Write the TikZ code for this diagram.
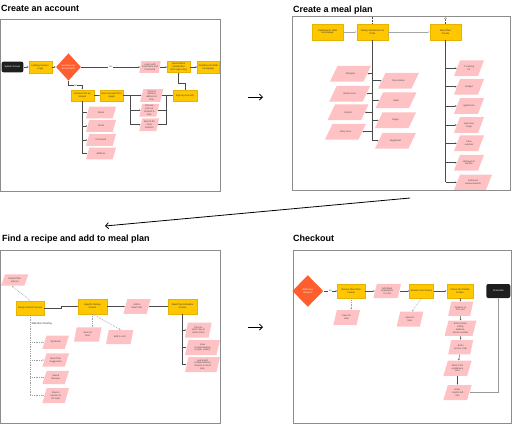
\documentclass[tikz,border=0pt]{standalone}
\usepackage{fontspec}
\setmainfont{Liberation Sans}
\usetikzlibrary{shapes.geometric,arrows.meta,calc}
\definecolor{yel}{HTML}{FFC700}
\definecolor{yeld}{HTML}{E5B300}
\definecolor{pk}{HTML}{FFC2C4}
\definecolor{org}{HTML}{FF5F2E}
\definecolor{blk}{HTML}{1E1E1E}
\definecolor{frm}{HTML}{8C8C8C}
\definecolor{lc}{HTML}{4A4A4A}
\newcommand\nf{\fontsize{2.4}{2.75}\selectfont}
\begin{document}
\begin{tikzpicture}[x=1pt,y=-1pt,
  every node/.style={font=\nf},
  yb/.style 2 args={rectangle, fill=yel, draw=yeld, line width=0.25pt, minimum width=#1, minimum height=#2, inner sep=0.3pt, align=center, text=black!80},
  bk/.style 2 args={rectangle, rounded corners=2pt, fill=blk, minimum width=#1, minimum height=#2, inner sep=0.3pt, align=center, text=white},
  pp/.style n args={3}{rectangle, minimum width=#1, minimum height=#2, inner sep=0.3pt, align=center, text=black!70,
     path picture={\fill[pk] (path picture bounding box.south west) -- ([xshift=-#3]path picture bounding box.south east) -- (path picture bounding box.north east) -- ([xshift=#3]path picture bounding box.north west) -- cycle;}},
  dm/.style 2 args={diamond, fill=org, minimum width=#1, minimum height=#2, inner sep=0pt, align=center, text=white},
  ar/.style={draw=lc, line width=0.45pt, -{Latex[length=1.6pt,width=1.6pt]}},
  ln/.style={draw=lc, line width=0.45pt},
  dsh/.style={draw=gray!75, dash pattern=on 1pt off 0.8pt},
  frame/.style={draw=frm, line width=1pt},
  ttl/.style={font=\fontsize{9}{10}\selectfont\bfseries, anchor=base west, inner sep=0pt},
  lbl/.style={fill=white, inner sep=0.4pt, font=\fontsize{2.3}{2.6}\selectfont, text=black!70},
  bigar/.style={draw=black, line width=0.8pt, -{Straight Barb[length=3pt,width=6pt]}},
]
\useasboundingbox (0,0) rectangle (512,424);

%%%%%%%%%%%%%%%% Panel 1 %%%%%%%%%%%%%%%%
\node[ttl] (t1) at (1,11.5) {Create an account};
\draw[frame] (0.7,19.5) rectangle (220,191);

\node[bk={21.7pt}{10.7pt}] (splash) at (12.5,67) {Splash Screen};
\node[yb={22.7pt}{11.7pt}] (landing) at (40.3,67) {Landing Screen /\\Login};
\node[dm={25pt}{27.4pt}] (hasacc) at (68.5,67) {Has the user\\an account?};
\node[pp={21.4pt}{11.7pt}{2pt}] (login) at (150,67) {Login with\\Username and\\Password};
\node[yb={22.7pt}{11pt}] (newfeat) at (178.7,67) {New feature\\introduction\\(first login only)};
\node[yb={22pt}{11.7pt}] (dash1) at (208.3,67) {Dashboard / HDB\\homepage};
\node[yb={23.3pt}{11.7pt}] (acct) at (82.3,95.5) {Account Set up\\Screen};
\node[yb={23.3pt}{11.7pt}] (give) at (111.7,95.5) {Give Account ID to\\plugin};
\node[pp={30pt}{11.7pt}{3.3pt}] (name) at (101,112.5) {Name};
\node[pp={30pt}{11.7pt}{3.3pt}] (email) at (101,126) {Email};
\node[pp={30pt}{11.7pt}{3.3pt}] (pass) at (101,140) {Password};
\node[pp={30pt}{11.7pt}{3.3pt}] (addr) at (101,153.5) {Address};
\node[pp={23.3pt}{12.7pt}{3.3pt}] (ch1) at (151.7,95.5) {Choose\\delivery\\address \&\\time};
\node[pp={20pt}{12.7pt}{3pt}] (ch2) at (149.3,110.2) {Choose\\pick up\\location \&\\time};
\node[pp={20pt}{12.7pt}{3pt}] (ch3) at (149.3,124.7) {Search for\\store\\location};
\node[yb={23.3pt}{11.7pt}] (signup) at (185,95.5) {Sign up Account!};

\draw[ar] (splash) -- (landing);
\draw[ar] (landing) -- (hasacc);
\draw[ar] (hasacc) -- node[lbl]{Yes} ([xshift=1pt]login.west);
\draw[ar] ([xshift=-1pt]login.east) -- (newfeat);
\draw[ar] (newfeat) -- (dash1);
\draw[ar] (hasacc.south) -- ++(0,4.7) -| node[lbl,pos=0.25]{No} (acct.north);
\draw[ar] (acct) -- (give);
\draw[ln] (acct.south) -- (acct.south |- addr);
\foreach \n in {name,email,pass,addr}
  \draw[ar] (acct.south |- \n) -- ([xshift=1.6pt]\n.west);
\coordinate (gb) at (130,95.5);
\draw[ln] (give) -- (gb) -- (gb |- ch3);
\foreach \n in {ch1,ch2,ch3}
  \draw[ar] (gb |- \n) -- ([xshift=1.6pt]\n.west);
\coordinate (mg) at (166,95.5);
\draw[ln] ([xshift=-1.5pt]ch2.east) -- (mg |- ch2);
\draw[ln] ([xshift=-1.5pt]ch3.east) -- (mg |- ch3) -- (mg);
\draw[ar] ([xshift=-1.6pt]ch1.east) -- (signup.west);
\draw[ar] (signup.north) -- ++(0,-6.5) -| (newfeat.south);

%%%%%%%%%%%%%%%% Panel 2 %%%%%%%%%%%%%%%%
\node[ttl] (t2) at (293,12.5) {Create a meal plan};
\draw[frame] (292.7,16) rectangle (510.3,190.3);

\node[yb={31pt}{15.7pt}] (dash2) at (327.5,32) {Dashboard / HDB\\Homepage};
\node[yb={31.6pt}{15.7pt}] (diet) at (372.5,32) {Dietary Restrictions \&\\Prefs};
\node[yb={31pt}{15.7pt}] (mcreate) at (445.5,32) {Meal Plan\\Create};
\draw[ar, draw=gray!70, line width=0.8pt] (dash2) -- (diet);
\draw[ar, draw=gray!70, line width=0.8pt] (diet) -- (mcreate);
\coordinate (dtop) at (372.5,16.5);
\coordinate (mtop) at (445.5,18.5);
\draw[draw=lc, line width=0.4pt, dash pattern=on 0.8pt off 0.8pt] (dtop) -- (diet.north);
\draw[draw=lc, line width=0.4pt, dash pattern=on 0.8pt off 0.8pt] (mtop) -- (mcreate.north);
\draw[draw=lc, line width=0.3pt, fill=white] (mtop) circle (1pt);

\node[pp={41pt}{15.7pt}{7.5pt}] (allerg) at (350.5,73.7) {Allergies};
\node[pp={41pt}{15.7pt}{7.5pt}] (gluten) at (349.7,93.7) {Gluten Free};
\node[pp={41pt}{15.7pt}{7.5pt}] (kosher) at (348,112.3) {Kosher};
\node[pp={41pt}{15.7pt}{7.5pt}] (dairy) at (345.5,131.7) {Dairy Free};
\node[pp={41pt}{15.7pt}{7.5pt}] (pesc) at (398.5,80.7) {Pescetarian};
\node[pp={41pt}{15.7pt}{7.5pt}] (halal) at (396,100.3) {Halal};
\node[pp={41pt}{15.7pt}{7.5pt}] (vegan) at (395.5,120.3) {Vegan};
\node[pp={41pt}{15.7pt}{7.5pt}] (veget) at (395.5,140.7) {Vegetarian};
\draw[ln] (diet.south) -- (diet.south |- veget);
\foreach \n in {allerg,gluten,kosher,dairy}
  \draw[ar] (diet.south |- \n) -- ([xshift=-3.8pt]\n.east);
\foreach \n in {pesc,halal,vegan,veget}
  \draw[ar] (diet.south |- \n) -- ([xshift=3.8pt]\n.west);

\node[pp={30pt}{15.7pt}{6pt}] (cook) at (469,68.3) {\# cooking\\for};
\node[pp={30pt}{15.7pt}{6pt}] (budget) at (469,86.7) {budget};
\node[pp={30pt}{15.7pt}{6pt}] (appl) at (469,106) {appliances};
\node[pp={30pt}{15.7pt}{6pt}] (prep) at (469,125) {prep time\\range};
\node[pp={30pt}{15.7pt}{6pt}] (fave) at (469,143.3) {Fave\\cuisines};
\node[pp={30pt}{15.7pt}{6pt}] (skill) at (469,162.7) {skill level in\\kitchen};
\node[pp={38pt}{15.3pt}{6pt}] (pref) at (473,182.3) {preferred\\measurements};
\draw[ln] (mcreate.south) -- (mcreate.south |- pref);
\foreach \n in {cook,budget,appl,prep,fave,skill,pref}
  \draw[ar] (mcreate.south |- \n) -- ([xshift=3pt]\n.west);

%%%%%%%%%%%%%%%% Panel 3 %%%%%%%%%%%%%%%%
\node[ttl] (t3) at (2,241) {Find a recipe and add to meal plan};
\draw[frame] (0.7,250.7) rectangle (220,423.5);

\node[pp={27.3pt}{11.4pt}{4pt}] (filter) at (14.7,280) {Select Filter\\options};
\node[yb={28.3pt}{14.3pt}] (search) at (30.2,307.8) {Recipe Search Screen};
\node[yb={28.3pt}{14.7pt}] (specific) at (92.5,306.5) {Specific Recipe\\Screen};
\node[pp={27.3pt}{14.7pt}{4pt}] (addmp) at (137,306.5) {Add to\\Meal Plan};
\node[yb={28.3pt}{14.7pt}] (sched) at (182.5,306.5) {Meal Plan Schedule\\Screen};
\node[pp={27.7pt}{14.3pt}{2.7pt}] (save1) at (87.8,334.5) {Save for\\later};
\node[pp={27.3pt}{14pt}{2.7pt}] (cart) at (119.7,337) {Add to cart};
\node[anchor=west, inner sep=0pt, font=\fontsize{2.7}{3}\selectfont, text=black!80] (sbo) at (31.3,324) {Side Bar Overlay};
\node[pp={26.7pt}{13.3pt}{4.3pt}] (mymeals) at (55.7,342.3) {My Meals};
\node[pp={26.7pt}{13.3pt}{4.3pt}] (sugg) at (55.7,360) {Meal Plan\\Suggestion};
\node[pp={26.7pt}{13.3pt}{4.3pt}] (saved) at (55.7,377.5) {Saved\\Recipes};
\node[pp={26.7pt}{15pt}{4.3pt}] (season) at (55.7,395.5) {View in\\Season \&\\On Sale};
\node[pp={26.7pt}{15pt}{3pt}] (c1) at (198.3,330) {Choose\\which day \&\\which meal};
\node[pp={35pt}{15pt}{3.5pt}] (c2) at (202.5,347.5) {View\\complementary\\recipes (sides)};
\node[pp={35pt}{15pt}{3.5pt}] (c3) at (202.5,364.5) {quick add\\complementary\\recipes to meal\\plan};

\draw[ar, dsh] (search.north) -- ([xshift=-3pt]filter.south);
\draw[ar] (search.east) -- ++(16.7,0) |- (specific.west);
\draw[ar] (specific) -- ([xshift=1.8pt]addmp.west);
\draw[ar] ([xshift=-1.8pt]addmp.east) -- (sched);
\draw[ar, dsh] (specific.south) -- (specific.south |- save1.north);
\draw[ar, dsh] (specific.south) -- ([xshift=1pt]cart.north);
\draw[ln, dsh] (search.south) -- (search.south |- season);
\foreach \n in {mymeals,sugg,saved,season}
  \draw[ar, dsh] (search.south |- \n) -- ([xshift=2pt]\n.west);
\draw[ln] (sched.south) -- (sched.south |- c3);
\foreach \n in {c1,c2,c3}
  \draw[ar] (sched.south |- \n) -- ([xshift=1.6pt]\n.west);

%%%%%%%%%%%%%%%% Panel 4 %%%%%%%%%%%%%%%%
\node[ttl] (t4) at (293,241.5) {Checkout};
\draw[frame] (293,250.7) rectangle (511.5,423.5);

\node[dm={31pt}{31.7pt}] (more) at (307.8,291) {Add more\\recipes?};
\node[yb={27.7pt}{14.3pt}] (review) at (351.2,291) {Review Meal Plan\\Screen};
\node[pp={26.7pt}{15pt}{3.5pt}] (save3) at (346.7,317.5) {Save for\\later};
\node[pp={27.7pt}{14.3pt}{3.5pt}] (addmeal) at (387.2,291) {Add Meal\\Ingredients\\to Cart};
\node[yb={24pt}{14pt}] (rcart) at (421.5,291) {Review Cart Screen};
\node[pp={26.7pt}{15pt}{3.5pt}] (save4) at (410,319.2) {Save for\\later};
\node[yb={26.7pt}{14pt}] (cod) at (460,291) {Check Out Details\\Screen};
\node[bk={24pt}{14pt}] (checkout) at (498.3,291) {CheckOut};
\node[pp={25pt}{14.3pt}{3pt}] (d1) at (460.7,308.8) {Delivery or\\Pick up?};
\node[pp={32pt}{15.3pt}{4pt}] (d2) at (460.5,328.3) {Enter name,\\billing\\address,\\phone number};
\node[pp={25pt}{14.3pt}{3pt}] (d3) at (460.7,347.2) {Enter\\promo code};
\node[pp={28.3pt}{15.3pt}{4.5pt}] (d4) at (457.5,368.3) {Enter Pick\\up/delivery\\time};
\node[pp={28.3pt}{15pt}{4.5pt}] (d5) at (457.5,392.5) {Enter\\credit card\\info};

\draw[ar] (more) -- node[lbl]{No} (review);
\draw[ar, dsh] (review.south) -- (review.south |- save3.north);
\draw[ar] (review) -- ([xshift=1.75pt]addmeal.west);
\draw[ar] ([xshift=-1.75pt]addmeal.east) -- (rcart);
\draw[ar, dsh] (rcart.south) -- ([xshift=2pt]save4.north);
\draw[ar] (rcart) -- (cod);
\draw[ar] (cod) -- (d1);
\draw[ar] (d1) -- (d2);
\draw[ar] (d2) -- (d3);
\draw[ar] (d3) -- (d4);
\draw[ar] (d4) -- (d5);
\draw[ar, draw=gray!80] ([xshift=-2.2pt]d5.east) -| (checkout.south);

%%%%%%%%%%%%%%%% Between panels %%%%%%%%%%%%%%%%
\coordinate (a1s) at (248,97);
\coordinate (a1e) at (263,97);
\draw[bigar] (a1s) -- (a1e);
\coordinate (a2s) at (248,327);
\coordinate (a2e) at (263,327);
\draw[bigar] (a2s) -- (a2e);
\coordinate (a3s) at (410,198);
\coordinate (a3e) at (105,226);
\draw[bigar] (a3s) -- (a3e);
\end{tikzpicture}
\end{document}
